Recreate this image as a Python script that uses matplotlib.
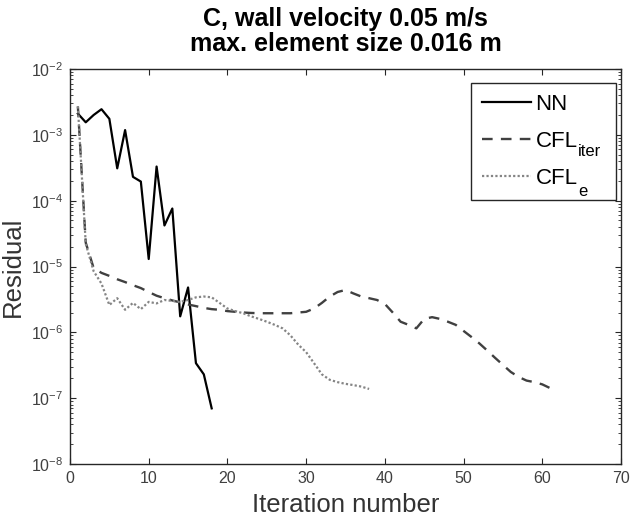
import matplotlib
matplotlib.use("Agg")
import matplotlib.pyplot as plt
from matplotlib.ticker import FixedLocator, NullFormatter
from matplotlib.transforms import IdentityTransform

plt.rcParams['font.family'] = ['Liberation Sans', 'DejaVu Sans']
plt.rcParams['mathtext.default'] = 'regular'

# ---- data ----
nn_iter = list(range(1, 19))
nn_res = [2.1e-3, 1.55e-3, 2.0e-3, 2.45e-3, 1.75e-3, 3.1e-4, 1.18e-3, 2.3e-4,
          1.95e-4, 1.3e-5, 3.3e-4, 4.2e-5, 7.6e-5, 1.75e-6, 4.8e-6, 3.4e-7,
          2.3e-7, 7.0e-8]

cfl_iter_iter = list(range(1, 62))
cfl_iter_res = [2.7e-3, 2.3e-5, 9.5e-6, 8.0e-6, 7.2e-6, 6.4e-6, 5.8e-6, 5.2e-6,
                4.7e-6, 4.1e-6, 3.6e-6, 3.3e-6, 3.05e-6, 2.85e-6, 2.65e-6, 2.5e-6,
                2.35e-6, 2.25e-6, 2.2e-6, 2.1e-6, 2.05e-6, 2.0e-6, 1.97e-6, 1.95e-6,
                1.95e-6, 1.95e-6, 1.95e-6, 1.95e-6, 2.0e-6, 2.05e-6, 2.3e-6, 2.8e-6,
                3.5e-6, 4.1e-6, 4.4e-6, 3.9e-6, 3.5e-6, 3.3e-6, 3.1e-6, 2.7e-6,
                2.0e-6, 1.45e-6, 1.3e-6, 1.15e-6, 1.6e-6, 1.7e-6, 1.6e-6, 1.45e-6,
                1.3e-6, 1.05e-6, 8.5e-7, 6.8e-7, 5.3e-7, 4.1e-7, 3.2e-7, 2.5e-7,
                2.1e-7, 1.85e-7, 1.75e-7, 1.62e-7, 1.42e-7]

cfl_e_iter = list(range(1, 39))
cfl_e_res = [2.7e-3, 2.2e-5, 8.5e-6, 5.5e-6, 2.6e-6, 3.3e-6, 2.2e-6, 2.8e-6,
             2.25e-6, 2.9e-6, 2.75e-6, 3.1e-6, 3.0e-6, 2.9e-6, 3.1e-6, 3.4e-6,
             3.5e-6, 3.4e-6, 2.8e-6, 2.3e-6, 2.1e-6, 1.95e-6, 1.75e-6, 1.6e-6,
             1.45e-6, 1.3e-6, 1.15e-6, 9.0e-7, 6.5e-7, 5.0e-7, 3.4e-7, 2.3e-7,
             1.9e-7, 1.75e-7, 1.65e-7, 1.58e-7, 1.5e-7, 1.38e-7]

x_ticks = [0, 10, 20, 30, 40, 50, 60, 70]
y_exponents = [-8, -7, -6, -5, -4, -3, -2]
title_text = "C, wall velocity 0.05 m/s\nmax. element size 0.016 m"
xlabel_text = "Iteration number"
ylabel_text = "Residual"
legend_main = ["NN", "CFL", "CFL"]
legend_sub = [None, "iter", "e"]

# ---- figure ----
fig = plt.figure(figsize=(6.30, 5.24), dpi=100)
ax = fig.add_axes([70/630, 1-464/524, (621-70)/630, (464-69)/524])

axcol = '#262626'
ax.plot(nn_iter, nn_res, color='black', lw=1.6, label=legend_main[0])
ax.plot(cfl_iter_iter, cfl_iter_res, color='#404040', lw=1.7,
        dashes=(4.5, 3.5), label=legend_main[1])
ax.plot(cfl_e_iter, cfl_e_res, color='#858585', lw=1.6,
        linestyle=(0, (1, 1)), label=legend_main[2])

ax.set_yscale('log')
ax.set_ylim(10.0 ** y_exponents[0], 10.0 ** y_exponents[-1])
ax.set_xlim(x_ticks[0], x_ticks[-1])
ax.set_xticks(x_ticks)
major = [10.0 ** e for e in y_exponents]
minor = [m * 10.0 ** e for e in y_exponents[:-1] for m in range(2, 10)]
ax.yaxis.set_major_locator(FixedLocator(major))
ax.yaxis.set_minor_locator(FixedLocator(minor))
ax.yaxis.set_minor_formatter(NullFormatter())

ax.tick_params(which='both', direction='in', top=True, right=True,
               colors=axcol, labelcolor='#404040', labelsize=11.5)
ax.tick_params(which='major', length=4.5, width=0.8, pad=5)
ax.tick_params(which='minor', length=2.5, width=0.6)
for s in ax.spines.values():
    s.set_color(axcol)
    s.set_linewidth(1.0)

ax.set_title(title_text, fontsize=18, fontweight='bold', pad=13, linespacing=1.05)
ax.set_xlabel(xlabel_text, fontsize=18.5, color='#333333', labelpad=5)
ax.set_ylabel(ylabel_text, fontsize=18.5, color='#333333', labelpad=4)

# legend box spans x 471..616, top at y 83 (pixels)
lx0 = (471 - 70) / 551
lw_ = (616 - 471) / 551
ly1 = (464 - 83) / 395
leg = ax.legend(loc='upper left', bbox_to_anchor=(lx0, ly1 - 0.2, lw_, 0.2),
                mode='expand', borderaxespad=0, fontsize=16, handlelength=2.2,
                handletextpad=0.2, labelspacing=0.72, fancybox=False,
                framealpha=1, edgecolor=axcol, borderpad=0.5)
leg.get_frame().set_linewidth(1.0)

fig.canvas.draw()
renderer = fig.canvas.get_renderer()
for t, sub, dy in zip(leg.get_texts(), legend_sub, [0, 1, -2]):
    if sub is None:
        continue
    bb = t.get_window_extent(renderer)
    fig.text(bb.x1 + 0.5, bb.y0 + dy, sub, transform=IdentityTransform(),
             fontsize=12, va='center', ha='left', color='black')

fig.savefig('out.png', dpi=100)
